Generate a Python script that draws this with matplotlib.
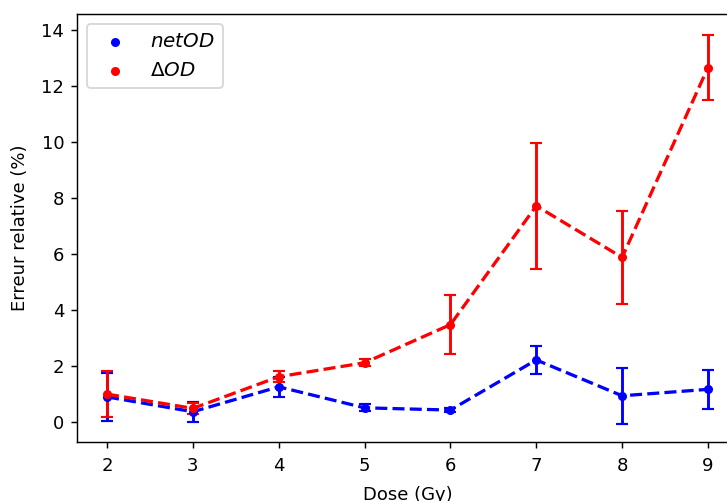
import matplotlib
matplotlib.use("Agg")
import matplotlib.pyplot as plt

dose = [2, 3, 4, 5, 6, 7, 8, 9]
net_od = [0.90, 0.37, 1.26, 0.51, 0.43, 2.22, 0.94, 1.17]
net_od_err = [0.87, 0.36, 0.36, 0.12, 0.08, 0.50, 0.99, 0.70]
delta_od = [1.00, 0.49, 1.62, 2.12, 3.48, 7.72, 5.88, 12.66]
delta_od_err = [0.82, 0.20, 0.20, 0.13, 1.05, 2.25, 1.65, 1.16]

dpi = 130
fig = plt.figure(figsize=(727 / dpi, 501 / dpi), dpi=dpi)
ax = fig.add_axes([77 / 727, 59 / 501, 661 / 727, 428 / 501])

ax.errorbar(dose, net_od, yerr=net_od_err, fmt='--', color='blue',
            capsize=3.5, elinewidth=1.6, capthick=1.2, lw=1.8)
ax.errorbar(dose, delta_od, yerr=delta_od_err, fmt='--', color='red',
            capsize=3.5, elinewidth=1.6, capthick=1.2, lw=1.8)
ax.scatter(dose, net_od, color='blue', s=16, zorder=3, label='$netOD$')
ax.scatter(dose, delta_od, color='red', s=16, zorder=3, label=r'$\Delta OD$')

ax.set_xlim(1.65, 9.35)
ax.set_ylim(-0.71, 14.57)
ax.set_xticks(dose)
ax.set_yticks([0, 2, 4, 6, 8, 10, 12, 14])
ax.tick_params(axis='x', pad=5)
ax.set_xlabel('Dose (Gy)', labelpad=6)
ax.set_ylabel('Erreur relative (%)', labelpad=7)
ax.legend(loc='upper left', fontsize=11)

fig.savefig('out.png', dpi=dpi)
